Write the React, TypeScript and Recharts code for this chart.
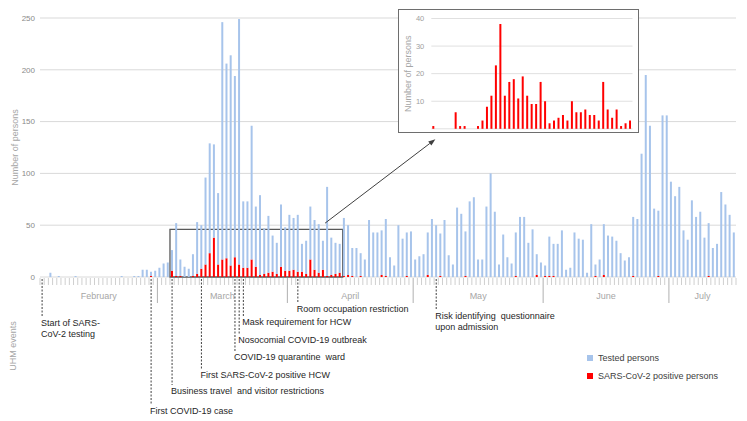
import React from 'react';
import { BarChart, Bar, XAxis, YAxis, CartesianGrid, ReferenceArea, ReferenceLine, Legend } from 'recharts';

// days shown: Feb 2 – Jul 16 (2020)
const months = ['February', 'March', 'April', 'May', 'June', 'July'];
const monthDays = [28, 31, 30, 31, 30, 16];

const testedFeb = [0, 0, 4, 0, 1, 0, 0, 0, 1, 0, 0, 0, 0, 0, 0, 0, 0, 0, 0, 1, 0, 0, 1, 1, 7, 7, 5, 6];
const testedMar = [9, 13, 14, 26, 52, 17, 10, 8, 22, 53, 50, 96, 129, 128, 81, 246, 206, 214, 194, 249, 73, 73, 146, 68, 79, 47, 59, 40, 33, 70, 48];
const testedApr = [60, 57, 60, 32, 35, 68, 55, 51, 35, 87, 38, 33, 32, 57, 50, 28, 28, 23, 17, 55, 43, 43, 45, 56, 19, 11, 50, 37, 43, 44];
const testedMay = [17, 20, 22, 43, 56, 50, 42, 55, 21, 12, 67, 61, 44, 73, 77, 17, 17, 68, 100, 63, 12, 41, 19, 13, 43, 58, 58, 33, 46, 22, 14];
const testedJun = [11, 39, 32, 32, 45, 7, 9, 43, 37, 36, 4, 51, 12, 17, 51, 40, 39, 35, 23, 16, 19, 58, 56, 119, 195, 146, 66, 64, 156, 156];
const testedJul = [92, 78, 87, 45, 36, 74, 58, 63, 38, 52, 28, 32, 82, 70, 60, 43];

const positiveFeb = [0, 0, 0, 0, 0, 0, 0, 0, 0, 0, 0, 0, 0, 0, 0, 0, 0, 0, 0, 0, 0, 0, 0, 0, 0, 0, 1, 0];
const positiveMar = [0, 0, 0, 6, 1, 1, 0, 0, 1, 3, 8, 12, 23, 38, 12, 17, 18, 11, 19, 12, 9, 9, 17, 10, 2, 3, 4, 5, 3, 10, 6];
const positiveApr = [6, 7, 5, 5, 3, 17, 7, 4, 7, 1, 2, 3, 4, 1, 2, 1, 0, 1, 0, 0, 0, 0, 2, 1, 0, 0, 0, 0, 1, 0];
const positiveMay = [0, 0, 0, 2, 0, 0, 1, 0, 0, 0, 0, 0, 1, 0, 0, 0, 0, 0, 0, 0, 0, 0, 0, 0, 1, 0, 0, 0, 0, 2, 0];
const positiveJun = [1, 1, 1, 0, 0, 0, 0, 0, 0, 0, 0, 0, 1, 0, 2, 0, 0, 0, 0, 0, 0, 1, 0, 0, 0, 0, 0, 1, 0, 0];
const positiveJul = [0, 0, 0, 0, 0, 0, 0, 0, 0, 1, 0, 0, 0, 0, 0, 0];

// UHM events (day index from Feb 2)
const eventDay = [0, 26, 31, 38, 46, 47, 48, 61, 94];
const eventText = [
  ['Start of SARS-', 'CoV-2 testing'],
  ['First COVID-19 case'],
  ['Business travel  and visitor restrictions'],
  ['First SARS-CoV-2 positive HCW'],
  ['COVID-19 quarantine  ward'],
  ['Nosocomial COVID-19 outbreak'],
  ['Mask requirement for HCW'],
  ['Room occupation restriction'],
  ['Risk identifying  questionnaire', 'upon admission'],
];
// vertical drop of each label below the axis (layout only)
const eventDrop = [46, 134, 114, 98, 80, 63, 45, 32, 39];

// inset: Feb 28 – Apr 12
const insetStart = 26;
const insetEnd = 71;

const BLUE = '#a7c4eb';
const RED = '#ff0000';
const AXIS_Y = 277;

const tested = [...testedFeb, ...testedMar, ...testedApr, ...testedMay, ...testedJun, ...testedJul];
const positive = [...positiveFeb, ...positiveMar, ...positiveApr, ...positiveMay, ...positiveJun, ...positiveJul];
const nDays = tested.length;

const rows = tested.map((t, i) => ({ day: i + 0.5, positive: positive[i], rest: t - positive[i] }));
const insetRows = positive.slice(insetStart, insetEnd).map((v, i) => ({ d: i, positive: v }));

const monthEdges: number[] = [0];
monthDays.forEach((n, i) => monthEdges.push(monthEdges[i] + n));
const monthMid = months.map((_, i) => (monthEdges[i] + monthEdges[i + 1]) / 2);
const dayTicks = Array.from({ length: nDays + 1 }, (_, i) => i);
const eventTicks = eventDay.map((d) => d + 0.5);

const DayTick = ({ x, payload }: any) => {
  const v = payload.value;
  const isMonth = v > 0 && v < nDays && monthEdges.includes(v);
  return (
    <line x1={x} x2={x} y1={AXIS_Y + 1} y2={AXIS_Y + (isMonth ? 26 : 8)} stroke={isMonth ? '#b0b0b0' : '#cfcfcf'} strokeWidth={1} />
  );
};

const MonthTick = ({ x, payload }: any) => {
  const k = monthMid.indexOf(payload.value);
  return (
    <text x={x} y={AXIS_Y + 19} dy="0.35em" textAnchor="middle" fontSize={9} fill="#a6a6a6">
      {months[k]}
    </text>
  );
};

const EventTick = ({ x, payload }: any) => {
  const k = eventTicks.indexOf(payload.value);
  if (k < 0) return <g />;
  const cy = AXIS_Y + eventDrop[k];
  return (
    <g>
      <line x1={x} x2={x} y1={AXIS_Y + 2} y2={cy - 6} stroke="#404040" strokeWidth={1} strokeDasharray="2 1.5" />
      {eventText[k].map((ln, j) => (
        <text key={j} x={x - 1} y={cy + j * 10.5} dy="0.35em" fontSize={9} fill="#262626" style={{ whiteSpace: 'pre' }}>
          {ln}
        </text>
      ))}
    </g>
  );
};

const Arrow = (p: any) => {
  const { x1, y1, x2, y2 } = p;
  const a = Math.atan2(y2 - y1, x2 - x1);
  const L = 7;
  const W = 2.6;
  const bx = x2 - L * Math.cos(a);
  const by = y2 - L * Math.sin(a);
  const pts = [
    [x2, y2],
    [bx + W * Math.sin(a), by - W * Math.cos(a)],
    [bx - W * Math.sin(a), by + W * Math.cos(a)],
  ].map((q) => q.join(',')).join(' ');
  return (
    <g>
      <line x1={x1} y1={y1} x2={bx} y2={by} stroke="#404040" strokeWidth={1} />
      <polygon points={pts} fill="#404040" />
    </g>
  );
};

const legendItems = [
  { name: 'Tested persons', color: BLUE },
  { name: 'SARS-CoV-2 positive persons', color: RED },
];

const LegendBox = () => (
  <div style={{ fontSize: 9, color: '#404040' }}>
    {legendItems.map((it) => (
      <div key={it.name} style={{ display: 'flex', alignItems: 'center', height: 18 }}>
        <span style={{ display: 'inline-block', width: 6, height: 6, background: it.color, marginRight: 5 }} />
        <span>{it.name}</span>
      </div>
    ))}
  </div>
);

const axisCommon = {
  dataKey: 'day',
  type: 'number' as const,
  domain: [0, nDays],
  allowDataOverflow: true,
  interval: 0 as const,
  height: 1,
  axisLine: false,
  tickLine: false,
  tickSize: 0,
  tickMargin: 0,
};

export default function App() {
  return (
    <div
      style={{
        position: 'absolute',
        left: 0,
        top: 0,
        width: 747,
        height: 421,
        background: '#fff',
        fontFamily: '"Liberation Sans", Arial, sans-serif',
        overflow: 'hidden',
      }}
    >
      <BarChart width={747} height={421} data={rows} margin={{ top: 18, right: 11, bottom: 141, left: 0 }}>
        <CartesianGrid vertical={false} stroke="#d9d9d9" xAxisId="days" />
        <XAxis xAxisId="days" {...axisCommon} ticks={dayTicks} tick={(p: any) => <DayTick {...p} />} />
        <XAxis xAxisId="months" {...axisCommon} ticks={monthMid} tick={(p: any) => <MonthTick {...p} />} />
        <XAxis xAxisId="events" {...axisCommon} ticks={eventTicks} tick={(p: any) => <EventTick {...p} />} />
        <YAxis
          domain={[0, 250]}
          ticks={[0, 50, 100, 150, 200, 250]}
          width={40}
          axisLine={false}
          tickLine={false}
          tickSize={0}
          tickMargin={5}
          tick={{ fontSize: 8, fill: '#8a8a8a' }}
          label={{
            value: 'Number of persons',
            angle: -90,
            position: 'insideLeft',
            offset: 15,
            style: { textAnchor: 'middle', fontSize: 9, fill: '#a6a6a6' },
          }}
        />
        <Bar xAxisId="days" dataKey="positive" stackId="a" fill={RED} barSize={2} name="SARS-CoV-2 positive persons" isAnimationActive={false} />
        <Bar xAxisId="days" dataKey="rest" stackId="a" fill={BLUE} barSize={2} name="Tested persons" isAnimationActive={false} />
        <ReferenceArea
          xAxisId="days"
          x1={31}
          x2={72.2}
          y1={0}
          y2={46}
          fill="none"
          stroke="#595959"
          strokeWidth={1.3}
          ifOverflow="visible"
        />
        <ReferenceLine
          xAxisId="days"
          segment={[
            { x: 68, y: 52 },
            { x: 94.3, y: 133 },
          ]}
          ifOverflow="visible"
          shape={(p: any) => <Arrow {...p} />}
        />
        <Legend
          layout="vertical"
          align="center"
          verticalAlign="middle"
          wrapperStyle={{ left: 587, top: 349, width: 160, height: 40 }}
          content={() => <LegendBox />}
        />
      </BarChart>

      <div
        style={{
          position: 'absolute',
          left: 13,
          top: 346,
          transform: 'translate(-50%, -50%) rotate(-90deg)',
          fontSize: 9,
          color: '#a6a6a6',
          whiteSpace: 'nowrap',
        }}
      >
        UHM events
      </div>

      <div
        style={{
          position: 'absolute',
          left: 398,
          top: 9,
          width: 241,
          height: 124,
          border: '1.5px solid #6e6e6e',
          boxSizing: 'border-box',
          background: '#fff',
        }}
      >
        <BarChart width={238} height={121} data={insetRows} margin={{ top: 8.5, right: 4.5, bottom: 2.2, left: 0 }}>
          <CartesianGrid vertical={false} stroke="#e0e0e0" />
          <XAxis dataKey="d" hide />
          <YAxis
            domain={[0, 40]}
            ticks={[0, 10, 20, 30, 40]}
            width={32.3}
            axisLine={false}
            tickLine={false}
            tickSize={0}
            tickMargin={7}
            tick={{ fontSize: 7.5, fill: '#a0a0a0' }}
            label={{
              value: 'Number of persons',
              angle: -90,
              position: 'insideLeft',
              offset: 9,
              style: { textAnchor: 'middle', fontSize: 9, fill: '#a6a6a6' },
            }}
          />
          <Bar dataKey="positive" fill={RED} barSize={2} isAnimationActive={false} />
        </BarChart>
      </div>
    </div>
  );
}
